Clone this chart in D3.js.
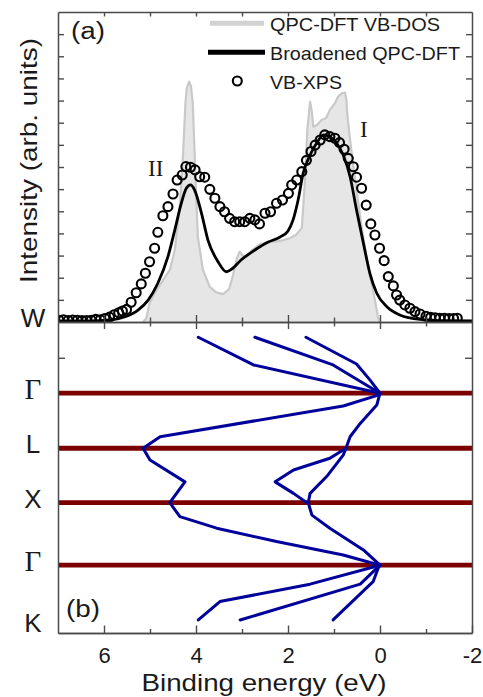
<!DOCTYPE html>
<html><head><meta charset="utf-8">
<script src="https://cdn.jsdelivr.net/npm/d3@7"></script>
<style>body{margin:0;background:#fff} svg{display:block}</style>
</head><body>
<svg id="chart" width="483" height="697"></svg>
<script>
// ---------- DATA ----------
const xTickMajor = [6, 4, 2, 0, -2];
const xTickMinor = [5, 3, 1, -1];
const xTickLabels = ["6", "4", "2", "0", "-2"];

// QPC-DFT VB-DOS (grey filled)
const dosEnergy = [5.15,5.08,5.01,4.89,4.74,4.57,4.46,4.35,4.28,4.23,4.20,4.15,4.11,4.07,4.03,3.99,3.96,3.85,3.70,3.57,3.41,3.28,3.20,3.11,3.05,3.00,2.91,2.78,2.61,2.39,2.17,1.96,1.83,1.70,1.63,1.58,1.52,1.48,1.45,1.37,1.27,1.17,1.09,0.98,0.91,0.83,0.76,0.73,0.71,0.65,0.57,0.48,0.39,0.30,0.20,0.11,0.04,0.00];
const dosIntensity = [0,0.17,0.84,1.35,1.81,2.35,3.25,5.36,7.62,9.88,10.57,10.85,10.66,9.88,7.62,5.36,3.85,2.35,1.59,1.35,1.26,1.49,2.08,2.89,3.18,3.03,2.94,3.25,3.52,3.61,3.66,3.78,3.93,4.25,6.41,8.67,9.95,9.49,8.82,8.90,9.12,9.21,9.58,9.88,10.18,10.33,10.36,10.03,9.35,8.22,6.87,5.51,4.16,3.03,1.90,0.99,0.18,0];

// Broadened QPC-DFT (black line)
const broadEnergy = [7.00,6.30,5.87,5.54,5.26,5.04,4.83,4.61,4.46,4.32,4.21,4.12,4.03,3.88,3.74,3.52,3.34,3.23,3.02,2.72,2.43,2.17,2.00,1.89,1.78,1.67,1.52,1.38,1.23,1.09,0.94,0.80,0.65,0.51,0.36,0.22,0.07,-0.15,-0.43,-0.87,-1.45,-2.00];
const broadIntensity = [0.05,0.05,0.09,0.24,0.54,0.99,1.75,2.95,4.16,5.36,6.04,6.19,5.96,4.91,3.70,2.72,2.27,2.38,2.80,3.25,3.61,3.84,4.11,4.61,5.51,6.72,7.54,8.07,8.45,8.37,8.07,7.54,6.56,5.06,3.55,2.20,1.30,0.69,0.32,0.12,0.06,0.05];

// VB-XPS (open circles)
const xpsEnergy = [6.98,6.88,6.78,6.68,6.58,6.48,6.38,6.28,6.18,6.08,5.98,5.88,5.78,5.68,5.60,5.51,5.41,5.30,5.19,5.10,5.01,4.90,4.83,4.72,4.61,4.50,4.41,4.30,4.22,4.12,4.02,3.92,3.81,3.70,3.59,3.48,3.38,3.27,3.16,3.05,2.94,2.83,2.72,2.62,2.50,2.38,2.25,2.12,1.99,1.92,1.81,1.70,1.60,1.50,1.41,1.30,1.20,1.09,0.98,0.88,0.78,0.69,0.58,0.51,0.40,0.30,0.20,0.11,0.01,-0.09,-0.18,-0.29,-0.36,-0.43,-0.54,-0.65,-0.76,-0.87,-1.00,-1.10,-1.20,-1.30,-1.40,-1.50,-1.60,-1.68];
const xpsIntensity = [0.08,0.10,0.07,0.09,0.08,0.06,0.07,0.08,0.12,0.10,0.16,0.22,0.33,0.42,0.50,0.57,0.89,1.32,1.72,2.20,2.72,3.33,4.05,4.80,5.21,5.78,6.41,6.64,7.02,6.99,6.87,6.56,6.54,5.99,5.59,5.21,4.98,4.68,4.53,4.53,4.53,4.68,4.61,4.43,4.91,4.98,5.36,5.51,5.81,6.19,6.41,6.79,7.30,7.70,7.99,8.22,8.45,8.37,8.30,8.10,7.80,7.39,7.01,6.54,6.04,5.28,4.43,3.93,3.33,2.77,2.05,1.63,1.22,0.99,0.77,0.62,0.47,0.36,0.26,0.21,0.19,0.17,0.17,0.16,0.16,0.17];

// Panel (b): k-path (normalised position along path) and band polylines
const kLabels = ["W", "Γ", "L", "X", "Γ", "K"];
const kLabelPos = [0, 0.229, 0.406, 0.581, 0.782, 0.98];
const symmetryK = [0.229, 0.406, 0.581, 0.782];
const kTick = [0.115];
const bandEnergies = [
  [3.95, 2.75, 0.0],
  [2.72, 1.02, 0.0],
  [1.61, 0.51, 0.22, 0.0],
  [0.0, 0.04, 0.80, 4.78, 5.15, 5.00, 4.24, 4.57, 4.35, 3.55, 2.25, 0.80, 0.0],
  [0.0, 0.07, 0.43, 0.65, 0.74, 0.80, 1.16, 1.52, 1.56, 1.48, 1.09, 0.36, 0.0],
  [0.74, 1.09, 1.88, 2.28, 1.88, 1.59],
  [0.0, 1.52, 3.48, 3.95],
  [0.0, 0.43, 3.04],
  [0.0, 0.04, 0.15, 1.02]
];
const bandK = [
  [0.049, 0.138, 0.229],
  [0.049, 0.138, 0.229],
  [0.049, 0.135, 0.186, 0.229],
  [0.229, 0.235, 0.270, 0.369, 0.406, 0.444, 0.514, 0.581, 0.626, 0.663, 0.706, 0.749, 0.782],
  [0.229, 0.267, 0.326, 0.369, 0.406, 0.428, 0.497, 0.551, 0.581, 0.621, 0.663, 0.733, 0.782],
  [0.406, 0.438, 0.476, 0.514, 0.551, 0.581],
  [0.782, 0.843, 0.899, 0.958],
  [0.782, 0.843, 0.958],
  [0.782, 0.792, 0.835, 0.958]
];
const legendLabels = ["QPC-DFT VB-DOS", "Broadened QPC-DFT", "VB-XPS"];

// ---------- LAYOUT ----------
const L = 58, R = 472, TOPA = 12, MID = 322, BOT = 633;
const svg = d3.select("#chart");
const sans = "'Liberation Sans', Arial, Helvetica, sans-serif";
const serif = "'Liberation Serif', 'Times New Roman', serif";
const axisCol = "#4a4a4a";

const x = d3.scaleLinear().domain([7, -2]).range([L, R]);
const yA = d3.scaleLinear().domain([0, 14]).range([MID, TOPA]);
const yB = d3.scaleLinear().domain([0, 1]).range([MID, BOT]);

svg.append("defs").append("clipPath").attr("id", "clipA")
  .append("rect").attr("x", L).attr("y", TOPA).attr("width", R - L).attr("height", MID - TOPA);

// ---------- PANEL A ----------
const gA = svg.append("g").attr("clip-path", "url(#clipA)");
const dos = dosEnergy.map((e, i) => [e, dosIntensity[i]]);
gA.append("path").datum(dos)
  .attr("d", d3.area().x(d => x(d[0])).y0(yA(0)).y1(d => yA(d[1])))
  .attr("fill", "#e6e6e6");
gA.append("path").datum(dos)
  .attr("d", d3.line().x(d => x(d[0])).y(d => yA(d[1])))
  .attr("fill", "none").attr("stroke", "#c9c9c9").attr("stroke-width", 2.2).attr("stroke-linejoin", "round");

const broad = broadEnergy.map((e, i) => [e, broadIntensity[i]]);
gA.append("path").datum(broad)
  .attr("d", d3.line().curve(d3.curveMonotoneX).x(d => x(d[0])).y(d => yA(d[1])))
  .attr("fill", "none").attr("stroke", "#000").attr("stroke-width", 2.8);

gA.selectAll("circle.xps").data(xpsEnergy.map((e, i) => [e, xpsIntensity[i]]))
  .enter().append("circle").attr("class", "xps")
  .attr("cx", d => x(d[0])).attr("cy", d => yA(d[1])).attr("r", 4.5)
  .attr("fill", "none").attr("stroke", "#000").attr("stroke-width", 2.1);

// ---------- PANEL B ----------
const gB = svg.append("g");
gB.selectAll("line.sym").data(symmetryK).enter().append("line")
  .attr("x1", x(7)).attr("x2", x(-2))
  .attr("y1", d => yB(d)).attr("y2", d => yB(d))
  .attr("stroke", "#7d0000").attr("stroke-width", 4.8);

const bandLine = d3.line().x(d => x(d[0])).y(d => yB(d[1]));
gB.selectAll("path.band").data(bandEnergies.map((es, j) => es.map((e, i) => [e, bandK[j][i]])))
  .enter().append("path").attr("class", "band")
  .attr("d", bandLine).attr("fill", "none")
  .attr("stroke", "#00009a").attr("stroke-width", 3).attr("stroke-linejoin", "round").attr("stroke-linecap", "round");

// ---------- AXES ----------
function styleAxis(g) {
  g.select(".domain").attr("stroke", axisCol).attr("stroke-width", 1.5);
  g.selectAll(".tick line").attr("stroke", axisCol).attr("stroke-width", 1.4);
  g.selectAll(".tick text").remove();
}
svg.append("g").attr("transform", `translate(0,${TOPA})`)
  .call(d3.axisTop(x).tickValues(d3.range(6, -2, -1)).tickSizeInner(-4.5).tickSizeOuter(0)).call(styleAxis);
svg.append("g").attr("transform", `translate(0,${MID})`)
  .call(d3.axisBottom(x).tickValues(xTickMajor.slice(0, 4)).tickSizeInner(7).tickSizeOuter(0)).call(styleAxis)
  .selectAll(".tick line").attr("y1", -7);
svg.append("g").attr("transform", `translate(0,${MID})`)
  .call(d3.axisBottom(x).tickValues(xTickMinor).tickSizeInner(4.5).tickSizeOuter(0)).call(styleAxis)
  .selectAll(".tick line").attr("y1", -4.5);
const gxb = svg.append("g").attr("transform", `translate(0,${BOT})`)
  .call(d3.axisBottom(x).tickValues(xTickMajor).tickSizeInner(-7.5).tickSizeOuter(0)
    .tickFormat((d, i) => xTickLabels[i]).tickPadding(14));
gxb.select(".domain").attr("stroke", axisCol).attr("stroke-width", 1.5);
gxb.selectAll(".tick line").attr("stroke", axisCol).attr("stroke-width", 1.4);
gxb.selectAll(".tick text").attr("font-family", sans).attr("font-size", 22).attr("fill", "#1a1a1a").attr("dy", "0.71em");
svg.append("g").attr("transform", `translate(0,${BOT})`)
  .call(d3.axisBottom(x).tickValues(xTickMinor).tickSizeInner(-4).tickSizeOuter(0)).call(styleAxis);
svg.append("g").attr("transform", `translate(${L},0)`)
  .call(d3.axisLeft(yA).tickValues(d3.range(1, 14)).tickSizeInner(-6).tickSizeOuter(0)).call(styleAxis);
svg.append("g").attr("transform", `translate(${R},0)`)
  .call(d3.axisRight(yA).tickValues(d3.range(1, 14)).tickSizeInner(-6).tickSizeOuter(0)).call(styleAxis);
svg.append("g").attr("transform", `translate(${L},0)`)
  .call(d3.axisLeft(yB).tickValues(kTick).tickSizeInner(-7).tickSizeOuter(0)).call(styleAxis);
svg.append("g").attr("transform", `translate(${R},0)`)
  .call(d3.axisRight(yB).tickValues(kTick).tickSizeInner(-7).tickSizeOuter(0)).call(styleAxis);

// ---------- TEXT ----------
svg.selectAll("text.klab").data(kLabels).enter().append("text")
  .attr("x", 33).attr("y", (d, i) => yB(kLabelPos[i]) - 4)
  .attr("text-anchor", "middle").attr("dominant-baseline", "central")
  .attr("font-family", d => d === "Γ" ? serif : sans)
  .attr("font-size", d => d === "Γ" ? 29 : 26)
  .attr("fill", "#1a1a1a").text(d => d);

svg.append("text").attr("x", 71).attr("y", 39).attr("font-family", sans).attr("font-size", 23)
  .attr("fill", "#1a1a1a").attr("textLength", 34).attr("lengthAdjust", "spacingAndGlyphs").text("(a)");
svg.append("text").attr("x", 66).attr("y", 617).attr("font-family", sans).attr("font-size", 23)
  .attr("fill", "#1a1a1a").attr("textLength", 34).attr("lengthAdjust", "spacingAndGlyphs").text("(b)");

svg.append("text").attr("x", 148).attr("y", 176).attr("font-family", serif).attr("font-size", 23)
  .attr("fill", "#1a1a1a").text("II");
svg.append("text").attr("x", 360).attr("y", 137).attr("font-family", serif).attr("font-size", 23)
  .attr("fill", "#1a1a1a").text("I");

svg.append("text").attr("transform", "translate(37,160.5) rotate(-90)")
  .attr("text-anchor", "middle").attr("font-family", sans).attr("font-size", 24)
  .attr("fill", "#1a1a1a").attr("textLength", 245).attr("lengthAdjust", "spacingAndGlyphs")
  .text("Intensity (arb. units)");
svg.append("text").attr("x", 264).attr("y", 691)
  .attr("text-anchor", "middle").attr("font-family", sans).attr("font-size", 24)
  .attr("fill", "#1a1a1a").attr("textLength", 245).attr("lengthAdjust", "spacingAndGlyphs")
  .text("Binding energy (eV)");

// ---------- LEGEND ----------
const legY = [23.3, 52.3, 81];
const legLen = [170, 190, 72];
svg.append("line").attr("x1", 210).attr("x2", 264).attr("y1", legY[0]).attr("y2", legY[0])
  .attr("stroke", "#d2d2d2").attr("stroke-width", 5);
svg.append("line").attr("x1", 208).attr("x2", 265).attr("y1", legY[1]).attr("y2", legY[1])
  .attr("stroke", "#000").attr("stroke-width", 5);
svg.append("circle").attr("cx", 237.3).attr("cy", legY[2]).attr("r", 4.5)
  .attr("fill", "none").attr("stroke", "#000").attr("stroke-width", 2.1);
svg.selectAll("text.leg").data(legendLabels).enter().append("text")
  .attr("x", 270).attr("y", (d, i) => legY[i] + 7.5)
  .attr("font-family", sans).attr("font-size", 19).attr("fill", "#1a1a1a")
  .attr("textLength", (d, i) => legLen[i]).attr("lengthAdjust", "spacingAndGlyphs")
  .text(d => d);
</script>
</body></html>
